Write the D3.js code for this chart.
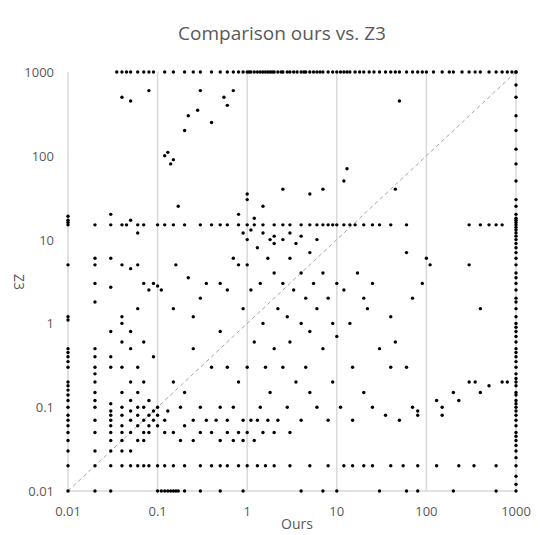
<!DOCTYPE html>
<html><head><meta charset="utf-8">
<script src="https://cdn.jsdelivr.net/npm/d3@7"></script>
<style>body{margin:0;background:#fff;font-family:"Open Sans",Calibri,sans-serif}</style>
</head><body><svg id="c" width="558" height="535"></svg>
<script>
const tickVals=[0.01,0.1,1,10,100,1000];
const tickLabels=["0.01","0.1","1","10","100","1000"];
// points at Z3 = 1000 (timeouts), x values
const topRowX=[0.035,0.04,0.045,0.05,0.06,0.07,0.08,0.09,0.12,0.15,0.2,0.25,0.3,0.4,0.5,0.6,0.7,0.8,0.9,1,1.05,1.1,1.2,1.3,1.4,1.5,1.6,1.7,1.8,1.9,2,2.2,2.4,2.5,2.8,3,3.3,3.6,4,4.3,4.5,5,5.5,6,6.5,7,8,9,10,11,12,13,14,16,18,20,23,26,30,35,40,45,50,60,70,80,90,100,120,150,180,200,250,300,350,400,500,600,700,800,900,1000];
// points at Ours = 1000, y values
const rightColY=[0.01,0.012,0.015,0.02,0.025,0.03,0.035,0.04,0.045,0.05,0.06,0.07,0.08,0.09,0.1,0.11,0.12,0.14,0.15,0.18,0.2,0.22,0.25,0.3,0.35,0.4,0.45,0.5,0.6,0.7,0.8,0.9,1,1.2,1.5,1.8,2,2.5,3,3.5,4,5,6,7,8,9,10,11,12,13,14,15,16,17,18,20,25,30,50,80,120,200,300,500,700,1000];
// points at Ours = 0.01, y values
const leftColY=[0.01,0.02,0.03,0.04,0.05,0.06,0.07,0.08,0.1,0.12,0.14,0.16,0.18,0.2,0.3,0.35,0.4,0.45,0.5,1.1,1.2,5,15,16,17,19];
// points at Z3 = 0.01, x values
const bottomRowX=[0.02,0.03,0.1,0.11,0.12,0.13,0.14,0.15,0.16,0.17,0.2,0.3,0.5,0.9,4,7,10,30,60,80,200,600];
// points at Z3 = 0.02, x values
const row02X=[0.02,0.03,0.04,0.05,0.06,0.07,0.08,0.1,0.12,0.15,0.2,0.3,0.4,0.5,0.6,0.8,1,1.3,1.6,2,3,5,8,12,15,20,25,40,55,80,130,230,340,600];
// points at Z3 ~ 15, x values
const row15X=[0.02,0.03,0.04,0.045,0.06,0.1,0.12,0.15,0.2,0.3,0.4,0.5,0.6,0.8,1,1.2,1.5,2,2.5,3,4,5,6,7,8,9,10,12,14,16,20,25,30,40,60,300,400,500,600,700];
// other scattered points [Ours, Z3]
const scatter=[[0.02,0.03],[0.02,0.05],[0.02,0.07],[0.02,0.1],[0.02,0.12],[0.02,0.15],[0.02,0.2],[0.02,0.25],[0.02,0.3],[0.02,0.4],[0.02,0.5],[0.02,1.8],[0.02,3],[0.02,5],[0.02,6],
[0.03,0.03],[0.03,0.04],[0.03,0.05],[0.03,0.06],[0.03,0.07],[0.03,0.08],[0.03,0.09],[0.03,0.11],[0.03,0.3],[0.03,0.4],[0.03,0.8],[0.03,2.7],[0.03,6],[0.03,20],
[0.04,0.03],[0.04,0.04],[0.04,0.05],[0.04,0.06],[0.04,0.08],[0.04,0.1],[0.04,0.15],[0.04,0.3],[0.04,0.6],[0.04,1],[0.04,1.2],[0.04,5],[0.04,500],
[0.05,0.03],[0.05,0.05],[0.05,0.07],[0.05,0.09],[0.05,0.12],[0.05,0.2],[0.05,0.5],[0.05,0.8],[0.05,4.5],[0.05,17],[0.05,450],
[0.06,0.04],[0.06,0.06],[0.06,0.08],[0.06,0.1],[0.06,0.15],[0.06,0.3],[0.06,1.5],[0.06,5],[0.06,12],
[0.07,0.04],[0.07,0.05],[0.07,0.07],[0.07,0.1],[0.07,0.2],[0.07,0.6],[0.07,3],[0.07,15],
[0.08,0.05],[0.08,0.06],[0.08,0.08],[0.08,0.12],[0.08,2.5],[0.08,600],[0.09,0.07],[0.09,0.09],[0.09,0.4],[0.09,3],
[0.1,0.06],[0.1,0.08],[0.1,0.1],[0.1,2.8],[0.11,2.5],[0.12,0.05],[0.12,0.07],[0.12,100],[0.13,0.09],[0.13,110],[0.14,80],[0.15,0.05],[0.15,0.2],[0.15,1.5],[0.15,90],[0.16,5],[0.17,25],[0.18,0.1],[0.18,0.04],[0.2,0.06],[0.2,0.15],[0.2,200],[0.22,300],[0.22,3.5],[0.25,0.07],[0.25,0.04],[0.25,0.5],[0.25,1.2],[0.28,350],[0.3,0.05],[0.3,0.1],[0.3,2],[0.3,600],[0.35,0.07],[0.35,3],[0.4,0.05],[0.4,0.3],[0.4,250],[0.45,0.07],[0.5,0.04],[0.5,0.1],[0.5,0.8],[0.5,3],[0.55,500],[0.6,0.05],[0.6,0.07],[0.6,0.3],[0.6,2.5],[0.6,400],[0.7,0.04],[0.7,0.1],[0.7,6],[0.7,600],[0.8,0.05],[0.8,0.2],[0.8,5],[0.8,20],[0.9,0.07],[0.9,0.04],[0.9,1.5],[0.9,12],
[1,0.05],[1,0.3],[1,5],[1,10],[1,30],[1,35],[1.1,0.07],[1.1,2.5],[1.1,13],[1.2,0.04],[1.2,0.6],[1.2,18],[1.3,0.07],[1.3,8],[1.4,0.1],[1.4,3],[1.5,0.05],[1.5,1],[1.5,12],[1.5,25],[1.6,0.3],[1.7,0.07],[1.7,6],[1.8,0.15],[1.8,10],[2,0.05],[2,0.5],[2,4],[2,9],[2,11],[2.2,0.07],[2.2,1.5],[2.5,0.3],[2.5,3],[2.5,10],[2.5,40],[2.8,0.1],[2.8,1.2],[3,0.05],[3,0.6],[3,6],[3,12],[3.3,2.5],[3.5,0.2],[3.5,9],[4,0.07],[4,1],[4,4],[4,11],[4.5,0.3],[4.5,2],[5,0.15],[5,0.8],[5,7],[5,35],[5.5,3],[6,0.1],[6,1.5],[6,10],[7,0.5],[7,4],[7,40],[8,0.07],[8,2],[9,0.2],[9,1],[10,3],[10,0.7],[11,0.1],[12,50],[12,2.5],[13,70],[14,1],[15,0.3],[15,0.07],[17,4],[20,0.15],[20,2],[22,1.5],[25,3],[25,0.1],[30,0.5],[35,0.08],[40,0.3],[40,1.2],[45,0.6],[45,40],[50,0.07],[50,450],[60,0.3],[60,7],[70,0.1],[70,2],[80,0.08],[80,0.09],[90,3],[100,6],[110,5],[130,0.12],[150,0.08],[150,0.1],[200,0.15],[230,0.12],[300,0.2],[300,5],[350,0.2],[400,0.15],[400,1.5],[500,0.18],[700,0.2],[800,0.2]];

const pts=[];
topRowX.forEach(x=>pts.push([x,1000]));
rightColY.forEach(y=>pts.push([1000,y]));
leftColY.forEach(y=>pts.push([0.01,y]));
bottomRowX.forEach(x=>pts.push([x,0.01]));
row02X.forEach(x=>pts.push([x,0.02]));
row15X.forEach(x=>pts.push([x,15]));
scatter.forEach(p=>pts.push(p));

const svg=d3.select("#c");
const x=d3.scaleLog().domain([0.01,1000]).range([68,516]);
const y=d3.scaleLog().domain([0.01,1000]).range([491,72]);
const g="#d9d9d9";
svg.append("g").selectAll("line").data(tickVals).join("line")
 .attr("x1",d=>x(d)).attr("x2",d=>x(d)).attr("y1",y(1000)).attr("y2",y(0.01))
 .attr("stroke",g).attr("stroke-width",1.5);
svg.append("line").attr("x1",x(0.01)).attr("x2",x(1000)).attr("y1",y(0.01)).attr("y2",y(0.01)).attr("stroke",g).attr("stroke-width",1.5);
svg.append("line").attr("x1",x(0.01)).attr("y1",y(0.01)).attr("x2",x(1000)).attr("y2",y(1000))
 .attr("stroke","#a6a6a6").attr("stroke-dasharray","4,3").attr("stroke-width",1);
svg.append("g").selectAll("circle").data(pts).join("circle")
 .attr("cx",d=>x(d[0])).attr("cy",d=>y(d[1])).attr("r",1.7).attr("fill","#000");
const tc="#595959";
svg.append("g").selectAll("text").data(tickVals).join("text")
 .attr("x",d=>x(d)).attr("y",y(0.01)+25).attr("text-anchor","middle").attr("font-size",13).attr("fill",tc)
 .text((d,i)=>tickLabels[i]);
svg.append("g").selectAll("text").data(tickVals).join("text")
 .attr("x",54).attr("y",d=>y(d)+5).attr("text-anchor","end").attr("font-size",13).attr("fill",tc)
 .text((d,i)=>tickLabels[i]);
svg.append("text").attr("x",282).attr("y",40).attr("text-anchor","middle").attr("font-size",19).attr("fill",tc).text("Comparison ours vs. Z3");
svg.append("text").attr("x",297).attr("y",529).attr("text-anchor","middle").attr("font-size",14).attr("fill",tc).text("Ours");
svg.append("text").attr("transform","translate(14,282) rotate(90)").attr("text-anchor","middle").attr("font-size",14).attr("fill",tc).text("Z3");
</script></body></html>
